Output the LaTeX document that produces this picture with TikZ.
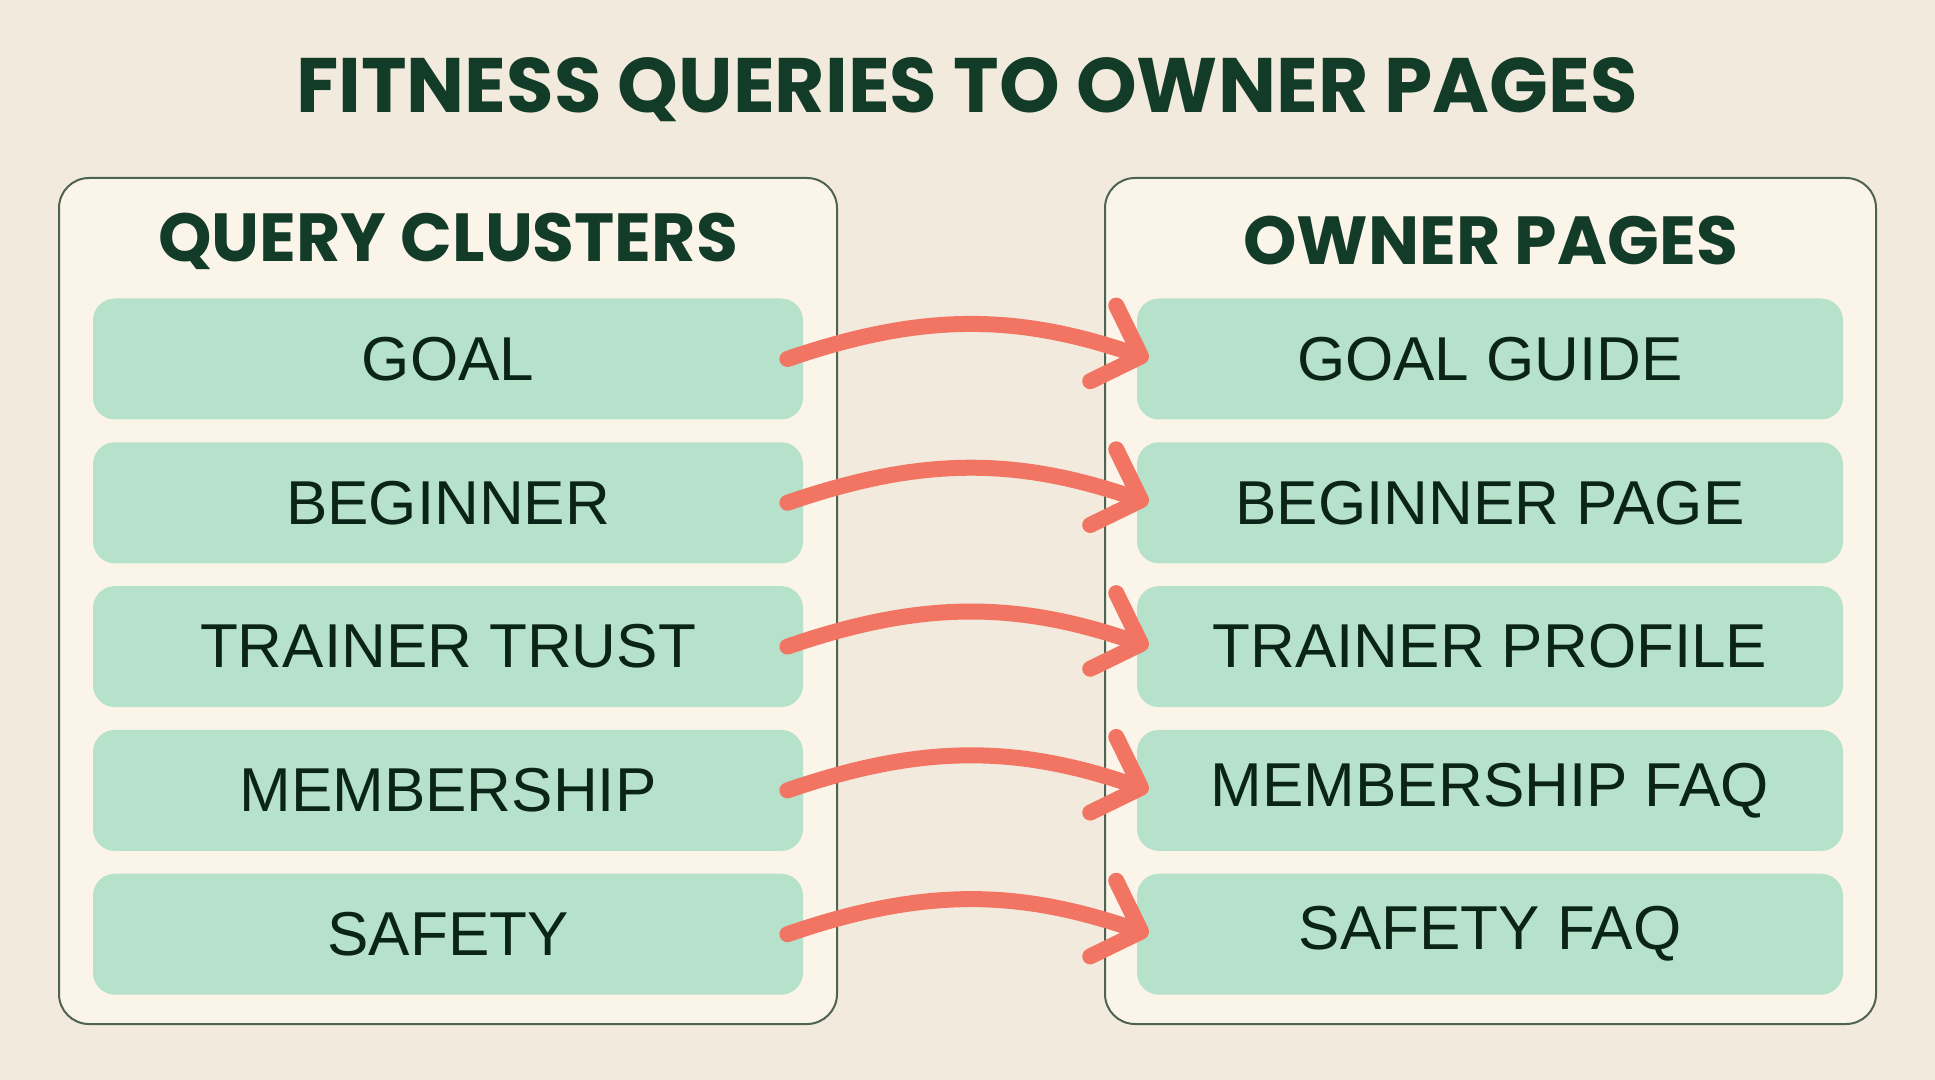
\documentclass[tikz,border=0pt]{standalone}
\usepackage{fontspec}
\setmainfont{Liberation Sans}
\newfontfamily\headfont{Poppins}
\usetikzlibrary{arrows.meta,positioning}

\definecolor{paper}{HTML}{F2EADC}
\definecolor{panelbg}{HTML}{FAF4E9}
\definecolor{panelline}{HTML}{4F6352}
\definecolor{mint}{HTML}{B6E1CB}
\definecolor{ink}{HTML}{0B2418}
\definecolor{headink}{HTML}{123B28}
\definecolor{coral}{HTML}{F27563}

\begin{document}
\begin{tikzpicture}[
  x=0.5pt, y=-0.5pt,
  node distance=11pt,
  panel/.style={rectangle, draw=panelline, line width=1pt, fill=panelbg,
    rounded corners=15pt, minimum width=389pt, minimum height=423pt},
  heading/.style={font=\headfont\bfseries\fontsize{34}{37}\selectfont,
    text=headink},
  item/.style={rectangle, fill=mint, rounded corners=11pt, inner sep=0pt,
    minimum width=355pt, minimum height=60.5pt,
    font=\fontsize{31}{34}\selectfont, text=ink},
  link/.style={-{Straight Barb[length=20pt, width=40pt, round]},
    line width=8pt, coral, line cap=round, bend left=19},
]
  \fill[paper] (0,0) rectangle (1935,1080);
  \useasboundingbox (0,0) rectangle (1935,1080);

  \node[font=\headfont\bfseries\fontsize{38.6}{42}\selectfont, text=headink]
    (title) at (967,90) {FITNESS QUERIES TO OWNER PAGES};

  % the two panels
  \node[panel] (qpanel) at (448,601) {};
  \node[panel, minimum width=385.5pt] (ppanel) at (1490.5,601) {};

  \node[heading] (qhead) at (448,241) {QUERY CLUSTERS};
  \node[heading] (phead) at (1490.5,241) {OWNER PAGES};

  % query clusters
  \node[item] (q1) at (448,359) {GOAL};
  \node[item, below=of q1] (q2) {BEGINNER};
  \node[item, below=of q2] (q3) {TRAINER TRUST};
  \node[item, below=of q3] (q4) {MEMBERSHIP};
  \node[item, below=of q4] (q5) {SAFETY};

  % owner pages
  \node[item, minimum width=353pt] (p1) at (1490,359) {GOAL GUIDE};
  \node[item, minimum width=353pt, below=of p1] (p2) {BEGINNER PAGE};
  \node[item, minimum width=353pt, below=of p2] (p3) {TRAINER PROFILE};
  \node[item, minimum width=353pt, below=of p3] (p4) {MEMBERSHIP FAQ};
  \node[item, minimum width=353pt, below=of p4] (p5) {SAFETY FAQ};

  \draw[link] ([xshift=-8pt]q1.east) to ([xshift=6pt]p1.west);
  \draw[link] ([xshift=-8pt]q2.east) to ([xshift=6pt]p2.west);
  \draw[link] ([xshift=-8pt]q3.east) to ([xshift=6pt]p3.west);
  \draw[link] ([xshift=-8pt]q4.east) to ([xshift=6pt]p4.west);
  \draw[link] ([xshift=-8pt]q5.east) to ([xshift=6pt]p5.west);
\end{tikzpicture}
\end{document}
